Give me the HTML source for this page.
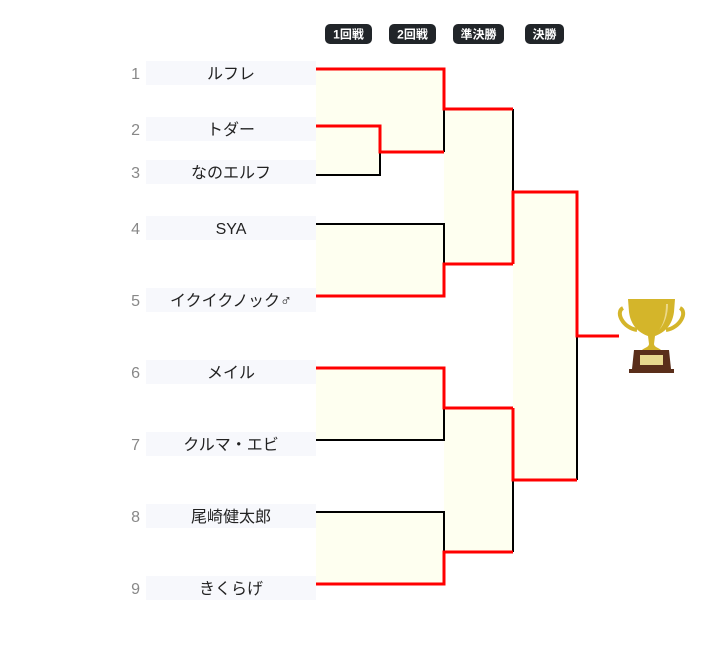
<!DOCTYPE html>
<html><head><meta charset="utf-8"><style>
body{margin:0;background:#fff;width:728px;height:663px;overflow:hidden;font-family:"Liberation Sans","Noto Sans CJK JP",sans-serif}
svg{position:absolute;left:0;top:0}
</style></head><body>
<svg width="728" height="663" viewBox="0 0 728 663" font-family="Liberation Sans, Noto Sans CJK JP, sans-serif">
<g fill="#212529">
<rect x="325" y="24" width="47" height="20" rx="5"/>
<rect x="389" y="24" width="47" height="20" rx="5"/>
<rect x="453" y="24" width="51" height="20" rx="5"/>
<rect x="525" y="24" width="39" height="20" rx="5"/>
</g>
<g fill="#fff" font-size="12" font-weight="bold" text-anchor="middle">
<text x="348.5" y="38.5">1回戦</text>
<text x="412.5" y="38.5">2回戦</text>
<text x="478.5" y="38.5">準決勝</text>
<text x="544.5" y="38.5">決勝</text>
</g>
<g fill="#f7f8fc">
<rect x="146" y="61" width="170" height="24"/>
<rect x="146" y="117" width="170" height="24"/>
<rect x="146" y="160" width="170" height="24"/>
<rect x="146" y="216" width="170" height="24"/>
<rect x="146" y="288" width="170" height="24"/>
<rect x="146" y="360" width="170" height="24"/>
<rect x="146" y="432" width="170" height="24"/>
<rect x="146" y="504" width="170" height="24"/>
<rect x="146" y="576" width="170" height="24"/>
</g>
<g fill="#888" font-size="16" text-anchor="end">
<text x="140" y="79">1</text><text x="140" y="135">2</text><text x="140" y="178">3</text>
<text x="140" y="234">4</text><text x="140" y="306">5</text><text x="140" y="378">6</text>
<text x="140" y="450">7</text><text x="140" y="522">8</text><text x="140" y="594">9</text>
</g>
<g fill="#222" font-size="16" text-anchor="middle">
<text x="231" y="79">ルフレ</text><text x="231" y="135">トダー</text><text x="231" y="178">なのエルフ</text>
<text x="231" y="234">SYA</text><text x="231" y="306">イクイクノック♂</text><text x="231" y="378">メイル</text>
<text x="231" y="450">クルマ・エビ</text><text x="231" y="522">尾崎健太郎</text><text x="231" y="594">きくらげ</text>
</g>
<g fill="#fefff0">
<rect x="316" y="69" width="128" height="83"/>
<rect x="316" y="126" width="64" height="49"/>
<rect x="316" y="224" width="128" height="72"/>
<rect x="316" y="368" width="128" height="72"/>
<rect x="316" y="512" width="128" height="72"/>
<rect x="444" y="109" width="69" height="155"/>
<rect x="444" y="408" width="69" height="144"/>
<rect x="513" y="192" width="64" height="288"/>
</g>
<g fill="none" stroke="#000" stroke-width="2">
<path d="M316 175H380V152"/>
<path d="M444 109V152"/>
<path d="M316 224H444V264"/>
<path d="M444 408V440H316"/>
<path d="M316 512H444V552"/>
<path d="M513 109V192"/>
<path d="M513 480V552"/>
<path d="M577 336V480"/>
</g>
<g fill="none" stroke="#f00" stroke-width="3">
<path d="M316 126H380V152H444"/>
<path d="M316 69H444V109H513"/>
<path d="M316 296H444V264H513"/>
<path d="M316 368H444V408H513"/>
<path d="M316 584H444V552H513"/>
<path d="M513 264V192H577V336H619"/>
<path d="M513 408V480H577"/>
</g>
<g transform="translate(619,298)">
<path d="M4 10 C-4 14 4 30 18 32" fill="none" stroke="#d4b52a" stroke-width="4"/>
<path d="M61 10 C69 14 61 30 47 32" fill="none" stroke="#d4b52a" stroke-width="4"/>
<path d="M9 1 H56 L55 14 C53 30 42 36 36 38 L35 46 C35 49 40 50 42 52 H23 C25 50 30 49 30 46 L29 38 C23 36 12 30 10 14 Z" fill="#d4b52a"/>
<path d="M47 6 C47 18 44 27 40 32 C46 26 49 16 49 6Z" fill="#ecd98a"/>
<path d="M15 52 H50 L52 71 H13 Z" fill="#5a2e1a"/>
<rect x="10" y="71" width="45" height="4" fill="#5a2e1a"/>
<rect x="21" y="57" width="23" height="10" fill="#e8d88e"/>
</g>
</svg>
</body></html>
